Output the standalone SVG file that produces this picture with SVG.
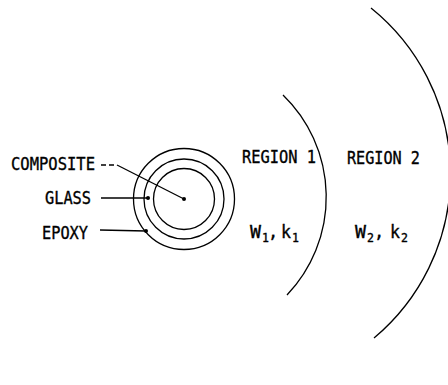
<svg xmlns="http://www.w3.org/2000/svg" width="448" height="385" viewBox="0 0 448 385">
<style>
.ln{fill:none;stroke:#000;stroke-width:1.3}
.lb{font-family:"DejaVu Sans Mono","Liberation Mono",monospace;font-size:17px;fill:#000;stroke:#000;stroke-width:0.35}
.sub{font-size:11.5px}
.dot{fill:#000}
</style>
<rect width="448" height="385" fill="#fff"/>
<g id="fiber">
<circle class="ln" cx="184" cy="199" r="30.5"/>
<circle class="ln" cx="184" cy="199" r="40"/>
<circle class="ln" cx="184" cy="199" r="50.5"/>
<circle class="dot" cx="184" cy="199" r="2"/>
<circle class="dot" cx="148" cy="198" r="2"/>
<circle class="dot" cx="146" cy="231" r="2"/>
</g>
<g id="region1">
<path class="ln" d="M283,95 A142,142 0 0 1 287,295"/>
<text class="lb" x="242" y="163" textLength="74" lengthAdjust="spacingAndGlyphs">REGION 1</text>
<text class="lb" y="238"><tspan x="250" textLength="11" lengthAdjust="spacingAndGlyphs">W</tspan><tspan class="sub" x="262" y="242">1</tspan><tspan x="268" y="238">,</tspan><tspan x="281" textLength="10" lengthAdjust="spacingAndGlyphs">k</tspan><tspan class="sub" x="292" y="242">1</tspan></text>
</g>
<g id="region2">
<path class="ln" d="M371,8 A213.5,213.5 0 0 1 374,338"/>
<text class="lb" x="347" y="164" textLength="73" lengthAdjust="spacingAndGlyphs">REGION 2</text>
<text class="lb" y="238"><tspan x="355" textLength="11" lengthAdjust="spacingAndGlyphs">W</tspan><tspan class="sub" x="367" y="242">2</tspan><tspan x="374" y="238">,</tspan><tspan x="390" textLength="10" lengthAdjust="spacingAndGlyphs">k</tspan><tspan class="sub" x="401" y="242">2</tspan></text>
</g>
<g id="labels">
<text class="lb" x="11" y="170" textLength="84" lengthAdjust="spacingAndGlyphs">COMPOSITE</text>
<text class="lb" x="45" y="204" textLength="46" lengthAdjust="spacingAndGlyphs">GLASS</text>
<text class="lb" x="42" y="239" textLength="46" lengthAdjust="spacingAndGlyphs">EPOXY</text>
</g>
<g id="connectors">
<path class="ln" d="M101,165 H117" stroke-dasharray="5,3"/>
<path class="ln" d="M117,165 L184,199"/>
<path class="ln" d="M101,198 H148"/>
<path class="ln" d="M100,230 L146,231"/>
</g>
</svg>
